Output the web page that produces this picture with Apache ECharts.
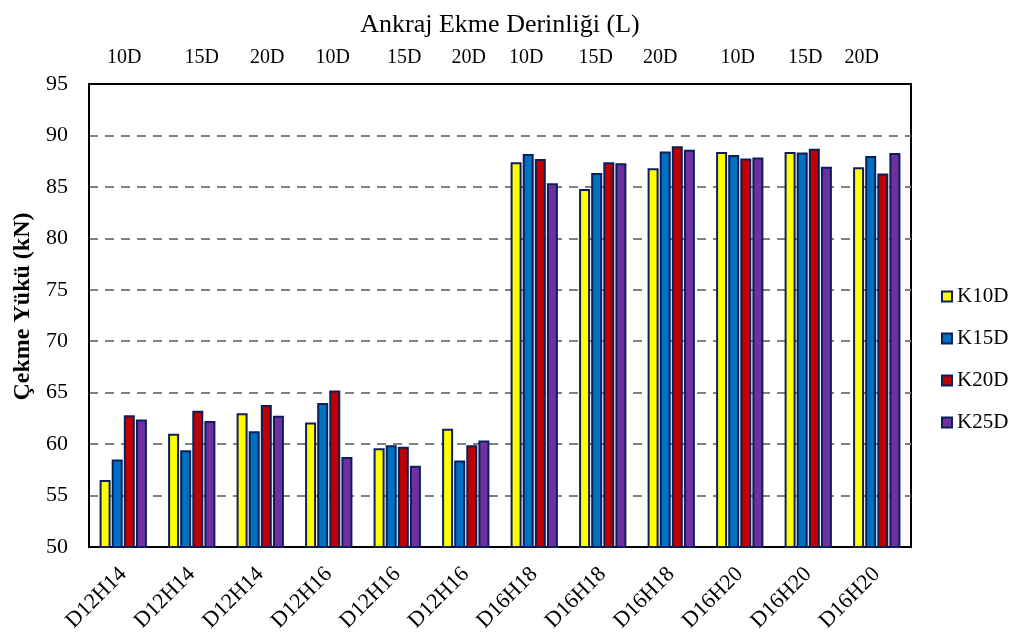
<!DOCTYPE html>
<html>
<head>
<meta charset="utf-8">
<script src="https://cdn.jsdelivr.net/npm/echarts@6/dist/echarts.min.js"></script>
<style>html,body{margin:0;padding:0;background:#fff}#c{width:1019px;height:641px}</style>
</head>
<body>
<div id="c"></div>
<script>
const categories = ['D12H14','D12H14','D12H14','D12H16','D12H16','D12H16','D16H18','D16H18','D16H18','D16H20','D16H20','D16H20'];
const topLabels = ['10D','15D','20D','10D','15D','20D','10D','15D','20D','10D','15D','20D'];
const seriesNames = ['K10D','K15D','K20D','K25D'];
const k10d = [56.5, 61.0, 63.0, 62.1, 59.6, 61.5, 87.4, 84.8, 86.8, 88.4, 88.4, 86.9];
const k15d = [58.5, 59.4, 61.25, 64.0, 59.9, 58.4, 88.2, 86.35, 88.45, 88.1, 88.35, 88.0];
const k20d = [62.8, 63.25, 63.8, 65.2, 59.75, 59.9, 87.7, 87.4, 88.95, 87.75, 88.7, 86.3];
const k25d = [62.4, 62.25, 62.75, 58.75, 57.9, 60.35, 85.35, 87.3, 88.6, 87.85, 86.95, 88.3];
const colors = ['#FFFF00','#0070C0','#C00000','#7030A0'];

// small horizontal nudges of the top labels (layout only)
const topNudge = [1, 10, 7, 4, 7, 3, -8, -7, -11, -2, -3, -15];

const font = '"Liberation Serif","Times New Roman",serif';
const data = [k10d, k15d, k20d, k25d];
const chart = echarts.init(document.getElementById('c'), null, {renderer:'canvas'});
chart.setOption({
  animation: false,
  backgroundColor: '#fff',
  title: {
    text: 'Ankraj Ekme Derinliği (L)',
    left: 495, top: 7, textAlign: 'center',
    textStyle: {fontFamily: font, fontSize: 26, fontWeight: 'normal', color: '#000'}
  },
  legend: {
    orient: 'vertical', left: 936, top: 281,
    itemWidth: 10, itemHeight: 10, itemGap: 21,
    icon: 'rect',
    textStyle: {fontFamily: font, fontSize: 21, color: '#000'},
    data: seriesNames
  },
  grid: {
    left: 89, right: 108, top: 84, bottom: 94,
    show: true, borderColor: '#000', borderWidth: 2, backgroundColor: 'transparent'
  },
  xAxis: [
    {
      type: 'category', data: categories, position: 'bottom',
      axisLine: {show: true, lineStyle: {color: '#000', width: 2}},
      axisTick: {show: false},
      axisLabel: {rotate: 45, fontFamily: font, fontSize: 22, color: '#000', margin: 24, interval: 0}
    },
    {
      type: 'category', data: topLabels, position: 'top',
      axisLine: {show: true, lineStyle: {color: '#000', width: 2}}, axisTick: {show: false},
      axisLabel: {
        fontFamily: font, fontSize: 20, color: '#000', margin: 16, interval: 0,
        formatter: (v, i) => '{n' + i + '|' + v + '}',
        rich: Object.fromEntries(topNudge.map((d, i) => ['n' + i, {
          fontFamily: font, fontSize: 20, color: '#000',
          padding: d >= 0 ? [0, 0, 0, 2 * d] : [0, -2 * d, 0, 0]
        }]))
      }
    }
  ],
  yAxis: {
    type: 'value', min: 50, max: 95, interval: 5,
    name: 'Çekme Yükü (kN)', nameLocation: 'middle', nameGap: 52, nameRotate: 90,
    nameTextStyle: {fontFamily: font, fontSize: 24, fontWeight: 'bold', color: '#000', padding: [0, 0, 0, 18]},
    axisLine: {show: true, lineStyle: {color: '#000', width: 2}},
    axisTick: {show: false},
    axisLabel: {fontFamily: font, fontSize: 22, color: '#000', margin: 21},
    splitLine: {show: true, lineStyle: {color: '#808080', width: 2, type: [9, 7]}}
  },
  series: seriesNames.map((n, i) => ({
    name: n, type: 'bar', data: data[i], xAxisIndex: 0,
    barWidth: 11, barGap: '10%',
    itemStyle: {color: colors[i], borderColor: '#0B1F5C', borderWidth: 2}
  }))
});
</script>
</body>
</html>
